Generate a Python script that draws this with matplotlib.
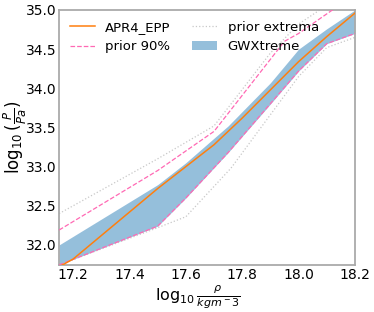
import matplotlib
matplotlib.use("Agg")
import matplotlib.pyplot as plt

# APR4_EPP curve
apr4_x = [17.15, 17.2, 17.3, 17.4, 17.5, 17.6, 17.7, 17.8, 17.9, 18.0, 18.1, 18.2]
apr4_y = [31.72, 31.82, 32.12, 32.42, 32.72, 33.0, 33.28, 33.62, 33.98, 34.34, 34.66, 34.96]

# prior 90% bounds
p90_up_x = [17.15, 17.5, 17.7, 17.95, 18.0, 18.2]
p90_up_y = [32.19, 32.95, 33.45, 34.6, 34.7, 35.2]
p90_lo_x = [17.15, 17.5, 17.6, 17.75, 18.0, 18.1, 18.2]
p90_lo_y = [31.745, 32.24, 32.6, 33.18, 34.22, 34.57, 34.7]

# prior extrema
ext_up_x = [17.15, 17.5, 17.7, 17.9, 18.0, 18.2]
ext_up_y = [32.40, 33.1, 33.52, 34.45, 34.82, 35.3]
ext_lo_x = [17.15, 17.5, 17.6, 17.76, 18.0, 18.1, 18.2]
ext_lo_y = [31.745, 32.22, 32.36, 32.98, 34.15, 34.52, 34.65]

# GWXtreme band
gw_x = [17.15, 17.5, 17.6, 17.75, 17.9, 18.0, 18.1, 18.2]
gw_up = [32.0, 32.77, 33.05, 33.52, 34.07, 34.5, 34.76, 35.0]
gw_lo = [31.745, 32.24, 32.6, 33.18, 33.8, 34.22, 34.57, 34.7]

fig = plt.figure(figsize=(3.74, 3.12), dpi=100)
ax = fig.add_axes([0.158, 0.151, 0.791, 0.817])

ax.plot(apr4_x, apr4_y, color='#ff7f0e', lw=1.1, label='APR4_EPP', zorder=4)
ax.plot(p90_up_x, p90_up_y, color='hotpink', lw=0.9, ls='--', label='prior 90%', zorder=3)
ax.plot(p90_lo_x, p90_lo_y, color='hotpink', lw=0.9, ls='--', zorder=3)
ax.plot(ext_up_x, ext_up_y, color='#c8c8c8', lw=0.9, ls=':', label='prior extrema', zorder=2)
ax.plot(ext_lo_x, ext_lo_y, color='#c8c8c8', lw=0.9, ls=':', zorder=2)
ax.fill_between(gw_x, gw_lo, gw_up, color='#1f77b4', alpha=0.47, lw=0, label='GWXtreme', zorder=1)

ax.set_xlim(17.15, 18.2)
ax.set_ylim(31.745, 35.0)
ax.set_xticks([17.2, 17.4, 17.6, 17.8, 18.0, 18.2])
ax.set_yticks([32.0, 32.5, 33.0, 33.5, 34.0, 34.5, 35.0])
ax.tick_params(length=0, labelsize=10)
ax.tick_params(axis='x', pad=2)
ax.tick_params(axis='y', pad=1.5)
for s in ax.spines.values():
    s.set_color('#aaaaaa')
    s.set_linewidth(1.3)

ax.set_xlabel(r'$\log_{10}\frac{\rho}{kgm^-3}$', fontsize=11.5, va='center')
ax.xaxis.set_label_coords(0.47, -0.127)
ax.set_ylabel(r'$\log_{10}(\frac{P}{Pa})$', fontsize=12, va='center')
ax.yaxis.set_label_coords(-0.148, 0.5)

ax.legend(loc='upper left', ncol=2, frameon=False, fontsize=9.5,
          handlelength=1.9, handletextpad=0.8, columnspacing=1.6,
          borderaxespad=0.4)

fig.savefig('out.png', dpi=100)
